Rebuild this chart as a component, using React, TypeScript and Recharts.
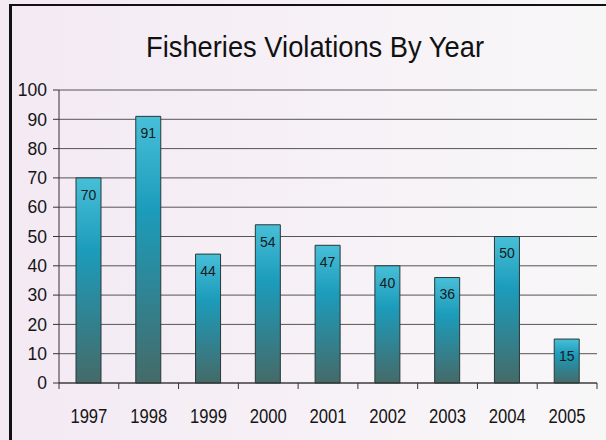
import { Bar, BarChart, CartesianGrid, LabelList, XAxis, YAxis } from 'recharts';

const years = ['1997', '1998', '1999', '2000', '2001', '2002', '2003', '2004', '2005'];
const violations = [70, 91, 44, 54, 47, 40, 36, 50, 15];
const yTicks = [0, 10, 20, 30, 40, 50, 60, 70, 80, 90, 100];

const data = years.map((year, i) => ({ year, value: violations[i] }));

const FONT = '"Liberation Sans", Arial, sans-serif';

interface TickProps {
  x: number;
  y: number;
  width: number;
  index: number;
  visibleTicksCount: number;
  payload: { value: string };
}

// Excel-style: tick marks sit between the categories, label in the middle
function YearTick({ x, y, width, index, visibleTicksCount, payload }: TickProps) {
  const half = width / visibleTicksCount / 2;
  const isLast = index === visibleTicksCount - 1;
  return (
    <g>
      <line x1={x - half} x2={x - half} y1={y} y2={y + 6} stroke="#333" />
      {isLast && <line x1={x + half} x2={x + half} y1={y} y2={y + 6} stroke="#333" />}
      <text
        x={x}
        y={y + 40}
        textAnchor="middle"
        fontSize={20}
        fontFamily={FONT}
        fill="#151515"
        textLength={37}
        lengthAdjust="spacingAndGlyphs"
      >
        {payload.value}
      </text>
    </g>
  );
}

export default function App() {
  return (
    <div
      style={{
        position: 'absolute',
        left: 0,
        top: 0,
        width: 606,
        height: 440,
        overflow: 'hidden',
        background: 'linear-gradient(90deg, #f3e9f3 0%, #f6f0f6 45%, #f8f7f8 100%)',
      }}
    >
      <div
        style={{
          position: 'absolute',
          left: 9,
          top: 4,
          width: 640,
          height: 480,
          borderTop: '2px solid #111',
          borderLeft: '3px solid #111',
          boxSizing: 'border-box',
        }}
      />
      <svg width={606} height={440} style={{ position: 'absolute', left: 0, top: 0 }}>
        <text
          x={315}
          y={57}
          textAnchor="middle"
          fontSize={30}
          fontFamily={FONT}
          fill="#111"
          textLength={338}
          lengthAdjust="spacingAndGlyphs"
        >
          Fisheries Violations By Year
        </text>
      </svg>
      <div style={{ position: 'absolute', left: 0, top: 0 }}>
        <BarChart width={606} height={440} data={data} margin={{ top: 90, right: 9, bottom: 0, left: 0 }}>
          <defs>
            <linearGradient id="barFill" x1="0" y1="0" x2="0" y2="1">
              <stop offset="0%" stopColor="#48bfd8" />
              <stop offset="35%" stopColor="#1c9cbb" />
              <stop offset="100%" stopColor="#456a68" />
            </linearGradient>
          </defs>
          <CartesianGrid vertical={false} stroke="#555" />
          <XAxis
            dataKey="year"
            stroke="#333"
            tickLine={false}
            tickSize={0}
            tickMargin={0}
            height={57}
            tick={YearTick}
            interval={0}
          />
          <YAxis
            domain={[0, 100]}
            ticks={yTicks}
            width={59}
            tickSize={6}
            tickMargin={6}
            stroke="#333"
            tick={{ fontSize: 17.5, fontFamily: FONT, fill: '#151515' }}
            interval={0}
          />
          <YAxis
            yAxisId="r"
            orientation="right"
            domain={[0, 100]}
            width={0}
            tick={false}
            tickLine={false}
            stroke="#444"
          />
          <Bar
            dataKey="value"
            fill="url(#barFill)"
            stroke="#2a3838"
            strokeWidth={1}
            barSize={25}
            isAnimationActive={false}
          >
            <LabelList
              dataKey="value"
              position="insideTop"
              offset={12}
              fontSize={14}
              fontFamily={FONT}
              fill="#1a1a1a"
            />
          </Bar>
        </BarChart>
      </div>
    </div>
  );
}
